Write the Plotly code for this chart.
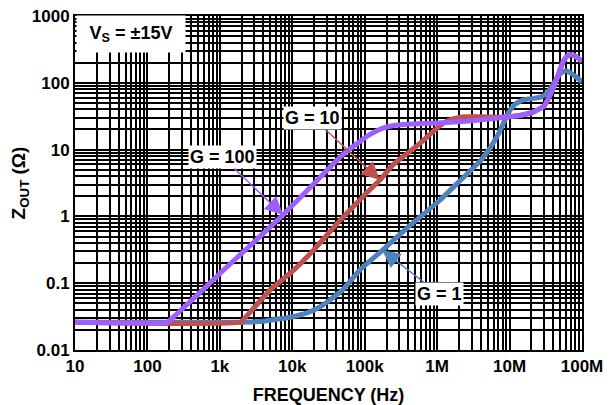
import plotly.graph_objects as go

# Frequency (Hz) and output impedance (ohm)
f_g1 = [10, 1800, 4000, 9300, 16000, 24000, 33000, 50000, 87000, 175000, 390000,
        1.1e6, 2e6, 4e6, 5.5e6, 7e6, 8.5e6, 10e6, 12e6, 15e6, 20e6, 27e6, 33e6,
        40e6, 48e6, 55e6, 62e6, 70e6, 85e6, 100e6]
z_g1 = [0.026, 0.026, 0.027, 0.031, 0.036, 0.044, 0.056, 0.08, 0.16, 0.31, 0.68,
        1.76, 3.3, 6.9, 11, 17, 27, 38, 48, 55, 58, 61, 70,
        95, 130, 148, 150, 140, 120, 103]

f_g10 = [10, 1900, 2500, 5000, 10000, 19500, 46000, 100000, 162000, 245000, 400000,
         590000, 800000, 1.1e6, 1.5e6, 2.3e6, 4e6, 7e6, 10e6, 15e6, 22e6, 30e6,
         36e6, 43e6, 50e6, 56e6, 62e6, 70e6, 78e6, 88e6, 100e6]
z_g10 = [0.026, 0.026, 0.035, 0.08, 0.15, 0.31, 0.88, 2.1, 3.5, 5.9, 9,
         12.6, 17, 23, 28, 31, 31, 30.5, 31, 33, 37, 45,
         65, 100, 160, 215, 250, 262, 255, 235, 210]

f_g100 = [10, 186, 250, 500, 1000, 3000, 7400, 20000, 46000, 80000, 120000, 178000,
          250000, 400000, 1e6, 3e6, 7.4e6, 15e6, 22e6, 30e6, 36e6, 43e6, 50e6,
          56e6, 62e6, 70e6, 78e6, 88e6, 100e6]
z_g100 = [0.026, 0.026, 0.034, 0.068, 0.14, 0.42, 1.05, 3.1, 7.8, 12.5, 17, 21,
          23, 24, 25, 27, 30, 33, 37, 45, 65, 100, 160,
          215, 250, 262, 255, 235, 210]

x_decades = [10, 100, 1e3, 1e4, 1e5, 1e6, 1e7, 1e8]
x_text = ['10', '100', '1k', '10k', '100k', '1M', '10M', '100M']
y_decades = [0.01, 0.1, 1, 10, 100, 1000]
y_text = ['0.01', '0.1', '1', '10', '100', '1000']

blue = '#4F81BD'
red = '#C0504D'
purple = '#9E5FFF'
font = 'Liberation Sans, Arial, sans-serif'


def grid_ticks(decades, labels):
    # one grid line at every 1..9 multiple, label only the decades
    vals, text = [], []
    for i, d in enumerate(decades):
        vals.append(d)
        text.append(labels[i])
        if i < len(decades) - 1:
            for m in range(2, 10):
                vals.append(d * m)
                text.append('')
    return vals, text


xv, xt = grid_ticks(x_decades, x_text)
yv, yt = grid_ticks(y_decades, y_text)

fig = go.Figure()
line_style = dict(width=5, shape='spline', smoothing=0.3)
fig.add_trace(go.Scatter(x=f_g1, y=z_g1, mode='lines', line=dict(color=blue, **line_style)))
fig.add_trace(go.Scatter(x=f_g10, y=z_g10, mode='lines', line=dict(color=red, **line_style)))
fig.add_trace(go.Scatter(x=f_g100, y=z_g100, mode='lines', line=dict(color=purple, **line_style)))

axis_common = dict(
    type='log', automargin=False, ticklabeloverflow='allow',
    showline=True, mirror=True, linecolor='black', linewidth=2,
    showgrid=True, gridcolor='black', gridwidth=2,
    ticks='', zeroline=False,
    tickfont=dict(family=font, size=17, color='black', weight='bold'),
)

fig.update_xaxes(axis_common, range=[1, 8], tickmode='array', tickvals=xv, ticktext=xt,
                 title=dict(text='<b>FREQUENCY (Hz)</b>', font=dict(family=font, size=18, color='black'), standoff=13))
fig.update_yaxes(axis_common, range=[-2, 3], tickmode='array', tickvals=yv, ticktext=yt,
                 title=dict(text='<b>Z<sub>OUT</sub> (Ω)</b>', font=dict(family=font, size=19, color='black'), standoff=6))

lbl = dict(family=font, size=18, color='black')
fig.add_annotation(x=0.11, y=0.947, xref='paper', yref='paper', xanchor='center', yanchor='middle',
                   text='<b>V<sub>S</sub> = ±15V</b>',
                   showarrow=False, bgcolor='white', font=dict(family=font, size=18, color='black'),
                   width=106, height=34)
fig.add_annotation(x=3.873, y=0.021, text='<b>G = 100</b>', font=lbl, bgcolor='white',
                   ax=-61, ay=-58, arrowcolor=purple, arrowwidth=1.5, arrowhead=2, arrowsize=2.4, standoff=0)
fig.add_annotation(x=5.21, y=0.545, text='<b>G = 10</b>', font=lbl, bgcolor='white',
                   ax=-67, ay=-62, arrowcolor=red, arrowwidth=1.5, arrowhead=2, arrowsize=2.4, standoff=0)
fig.add_annotation(x=5.24, y=-0.503, text='<b>G = 1</b>', font=lbl, bgcolor='white',
                   ax=57, ay=44, arrowcolor=blue, arrowwidth=1.5, arrowhead=2, arrowsize=2.4, standoff=0)

# the page's body margin shifts the figure by 8 px, so it is drawn 8 px smaller
fig.update_layout(
    width=608, height=397,
    margin=dict(l=67, r=34, t=8, b=55, autoexpand=False),
    plot_bgcolor='white', paper_bgcolor='white',
    showlegend=False,
    font=dict(family=font, color='black'),
)

fig.write_html('out.html')
